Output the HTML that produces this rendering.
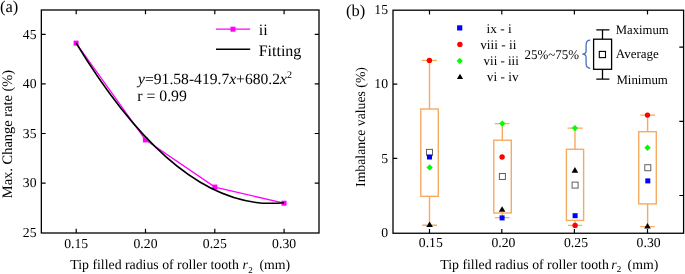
<!DOCTYPE html>
<html><head><meta charset="utf-8">
<style>
html,body{margin:0;padding:0;background:#fff;}
svg{display:block;will-change:transform;}
text{font-family:"Liberation Serif",serif;fill:#000;text-rendering:geometricPrecision;}
</style></head>
<body>
<svg width="685" height="274" viewBox="0 0 685 274">
<text x="0.00" y="12.00" font-size="16.5" >(a)</text>
<polyline points="76.1,43.1 145.4,139.9 214.9,187.1 284,203.2" fill="none" stroke="#ff00ff" stroke-width="1.3"/>
<rect x="73.6" y="40.6" width="5" height="5" fill="#ff00ff"/>
<rect x="142.9" y="137.4" width="5" height="5" fill="#ff00ff"/>
<rect x="212.4" y="184.6" width="5" height="5" fill="#ff00ff"/>
<rect x="281.5" y="200.7" width="5" height="5" fill="#ff00ff"/>
<path d="M76.1,43.0 Q180.05,214.08 284,202.64" fill="none" stroke="#000" stroke-width="1.5"/>
<rect x="41.35" y="10.0" width="277.65" height="223" fill="none" stroke="#000" stroke-width="1.3"/>
<g stroke="#000" stroke-width="1.2">
<path d="M76.2,233 v-4.3 M145.5,233 v-4.3 M214.8,233 v-4.3 M284.1,233 v-4.3"/>
<path d="M76.2,10 v4.3 M145.5,10 v4.3 M214.8,10 v4.3 M284.1,10 v4.3"/>
<path d="M41.35,34.3 h4.3 M41.35,83.9 h4.3 M41.35,133.5 h4.3 M41.35,183.1 h4.3"/>
<path d="M319,34.3 h-4.3 M319,83.9 h-4.3 M319,133.5 h-4.3 M319,183.1 h-4.3"/>
</g>
<text x="36.5" y="38.50" font-size="13.7" text-anchor="end">45</text>
<text x="36.5" y="88.10" font-size="13.7" text-anchor="end">40</text>
<text x="36.5" y="137.70" font-size="13.7" text-anchor="end">35</text>
<text x="36.5" y="187.30" font-size="13.7" text-anchor="end">30</text>
<text x="36.5" y="236.90" font-size="13.7" text-anchor="end">25</text>
<text x="76.20" y="248.3" font-size="13.7" text-anchor="middle">0.15</text>
<text x="145.50" y="248.3" font-size="13.7" text-anchor="middle">0.20</text>
<text x="214.80" y="248.3" font-size="13.7" text-anchor="middle">0.25</text>
<text x="284.10" y="248.3" font-size="13.7" text-anchor="middle">0.30</text>
<text x="70.3" y="268.9" font-size="13.8">Tip filled radius of roller tooth<tspan x="242.6" font-style="italic">r</tspan><tspan x="248.2" y="272.7" font-size="9">2</tspan><tspan x="259.4" y="268.9">(mm)</tspan></text>
<text transform="translate(12.20,134.00) rotate(-90)" x="0" y="0" font-size="14.45" text-anchor="middle" >Max. Change rate (%)</text>
<line x1="216" y1="29.2" x2="250.2" y2="29.2" stroke="#ff00ff" stroke-width="1.3"/>
<rect x="230.5" y="26.7" width="5" height="5" fill="#ff00ff"/>
<line x1="216" y1="49.2" x2="250.2" y2="49.2" stroke="#000" stroke-width="1.5"/>
<text x="258.70" y="35.30" font-size="16" >ii</text>
<text x="258.70" y="55.80" font-size="16" >Fitting</text>
<text x="138.1" y="84.2" font-size="15.6"><tspan font-style="italic">y</tspan>=91.58-419.7<tspan font-style="italic">x</tspan>+680.2<tspan font-style="italic">x</tspan><tspan font-size="10" dy="-6">2</tspan></text>
<text x="137.20" y="101.30" font-size="15.8" >r = 0.99</text>
<text x="346.00" y="16.00" font-size="16.5" >(b)</text>
<g fill="none" stroke="#f6ab62" stroke-width="1.4">
<path d="M429.5,60.4 V109 M429.5,196.3 V225.2 M422,60.4 H437 M422.3,225.2 H437"/>
<rect x="420.8" y="109" width="17.5" height="87.3"/>
<path d="M502.3,123.6 V140.2 M502.3,213 V217.6 M494.8,123.6 H509.5 M495,217.6 H509.5"/>
<rect x="493.8" y="140.2" width="17.5" height="72.8"/>
<path d="M575,128.1 V149.3 M575,220.4 V225.4 M567.5,128.1 H582.8 M568,225.4 H582.2"/>
<rect x="566.4" y="149.3" width="17.2" height="71.1"/>
<path d="M647.6,115.1 V131.7 M647.6,203.9 V226.6 M640.3,115.1 H655.2 M640.1,226.6 H654.6"/>
<rect x="638.7" y="131.7" width="17.6" height="72.2"/>
</g>
<rect x="426.5" y="149.4" width="6" height="6" fill="#fff" stroke="#606060" stroke-width="1"/>
<rect x="499.4" y="173.5" width="6" height="6" fill="#fff" stroke="#606060" stroke-width="1"/>
<rect x="572.1" y="182.1" width="6" height="6" fill="#fff" stroke="#606060" stroke-width="1"/>
<rect x="644.8" y="164.7" width="6" height="6" fill="#fff" stroke="#606060" stroke-width="1"/>
<rect x="427.0" y="154.5" width="5" height="5" fill="#0000ff"/>
<rect x="499.6" y="215.4" width="5" height="5" fill="#0000ff"/>
<rect x="572.6" y="213.2" width="5" height="5" fill="#0000ff"/>
<rect x="645.3" y="178.4" width="5" height="5" fill="#0000ff"/>
<circle cx="429.4" cy="60.4" r="2.7" fill="#ff0000"/>
<circle cx="502.1" cy="157" r="2.7" fill="#ff0000"/>
<circle cx="575.1" cy="225.4" r="2.7" fill="#ff0000"/>
<circle cx="647.5" cy="115.1" r="2.7" fill="#ff0000"/>
<path d="M429.6,164.2 l3.2,3.2 l-3.2,3.2 l-3.2,-3.2z" fill="#00ff00"/>
<path d="M502.3,120.4 l3.2,3.2 l-3.2,3.2 l-3.2,-3.2z" fill="#00ff00"/>
<path d="M574.9,124.9 l3.2,3.2 l-3.2,3.2 l-3.2,-3.2z" fill="#00ff00"/>
<path d="M647.5,144.6 l3.2,3.2 l-3.2,3.2 l-3.2,-3.2z" fill="#00ff00"/>
<path d="M429.6,221.5 l3.3,5.6 h-6.6z" fill="#000"/>
<path d="M502.1,206.2 l3.3,5.6 h-6.6z" fill="#000"/>
<path d="M574.9,167.1 l3.3,5.6 h-6.6z" fill="#000"/>
<path d="M647.5,222.9 l3.3,5.6 h-6.6z" fill="#000"/>
<rect x="393.0" y="10.2" width="290.6" height="223.05" fill="none" stroke="#000" stroke-width="1.3"/>
<g stroke="#000" stroke-width="1.2">
<path d="M429.5,233.25 v-4.3 M501.8,233.25 v-4.3 M574.4,233.25 v-4.3 M647.5,233.25 v-4.3"/>
<path d="M429.5,10.2 v4.3 M501.8,10.2 v4.3 M574.4,10.2 v4.3 M647.5,10.2 v4.3"/>
<path d="M393,84.2 h4.3 M393,158.3 h4.3"/>
<path d="M683.6,47.1 h-4.3 M683.6,121.3 h-4.3 M683.6,195.5 h-4.3"/>
</g>
<text x="388" y="14.30" font-size="13.7" text-anchor="end">15</text>
<text x="388" y="88.45" font-size="13.7" text-anchor="end">10</text>
<text x="388" y="162.60" font-size="13.7" text-anchor="end">5</text>
<text x="388" y="236.75" font-size="13.7" text-anchor="end">0</text>
<text x="430.80" y="246.6" font-size="13.7" text-anchor="middle">0.15</text>
<text x="503.40" y="246.6" font-size="13.7" text-anchor="middle">0.20</text>
<text x="576.00" y="246.6" font-size="13.7" text-anchor="middle">0.25</text>
<text x="648.60" y="246.6" font-size="13.7" text-anchor="middle">0.30</text>
<text x="440.3" y="268.5" font-size="13.8">Tip filled radius of roller tooth<tspan x="611.2" font-style="italic">r</tspan><tspan x="616.7" y="272.0" font-size="9">2</tspan><tspan x="627.6" y="268.5">(mm)</tspan></text>
<text transform="translate(365.10,127.00) rotate(-90)" x="0" y="0" font-size="13.75" text-anchor="middle" >Imbalance values (%)</text>
<rect x="457.1" y="25.3" width="5.2" height="5.2" fill="#0000ff"/>
<circle cx="459.9" cy="44.4" r="2.7" fill="#ff0000"/>
<path d="M459.7,57.7 l3.2,3.2 l-3.2,3.2 l-3.2,-3.2z" fill="#00ff00"/>
<path d="M460,73.8 l3.1,5.1 h-6.2z" fill="#000"/>
<text x="486.60" y="32.60" font-size="13.3" xml:space="preserve">ix - i</text>
<text x="480.20" y="48.70" font-size="13.3" xml:space="preserve">viii - ii</text>
<text x="483.60" y="65.30" font-size="13.3" textLength="35.17" lengthAdjust="spacingAndGlyphs" xml:space="preserve">vii - iii</text>
<text x="486.80" y="81.40" font-size="13.3" xml:space="preserve">vi - iv</text>
<text x="524.60" y="59.10" font-size="13.3" textLength="54.50" lengthAdjust="spacingAndGlyphs" >25%~75%</text>
<text x="615.80" y="34.30" font-size="13" textLength="52.90" lengthAdjust="spacingAndGlyphs" >Maximum</text>
<text x="615.80" y="58.30" font-size="13" >Average</text>
<text x="616.40" y="83.80" font-size="13" textLength="51.50" lengthAdjust="spacingAndGlyphs" >Minimum</text>
<g fill="none" stroke="#000" stroke-width="1.3">
<path d="M602.5,29.8 V39.2 M602.5,69.3 V79.2 M596.3,29.8 H609.4 M596.3,79.2 H609.4"/>
<rect x="593.6" y="39.2" width="18" height="30.1"/>
<rect x="599.3" y="51.4" width="6.2" height="6.2" stroke-width="1.1"/>
</g>
<path d="M590.3,40.2 C587.2,40.2 586.1,41.8 586.1,44.8 V50.8 Q586.1,54.1 582.3,54.1 Q586.1,54.1 586.1,57.4 V63.6 C586.1,66.6 587.2,68.3 590.3,68.3" fill="none" stroke="#4472c4" stroke-width="1.3"/>
</svg>
</body></html>
